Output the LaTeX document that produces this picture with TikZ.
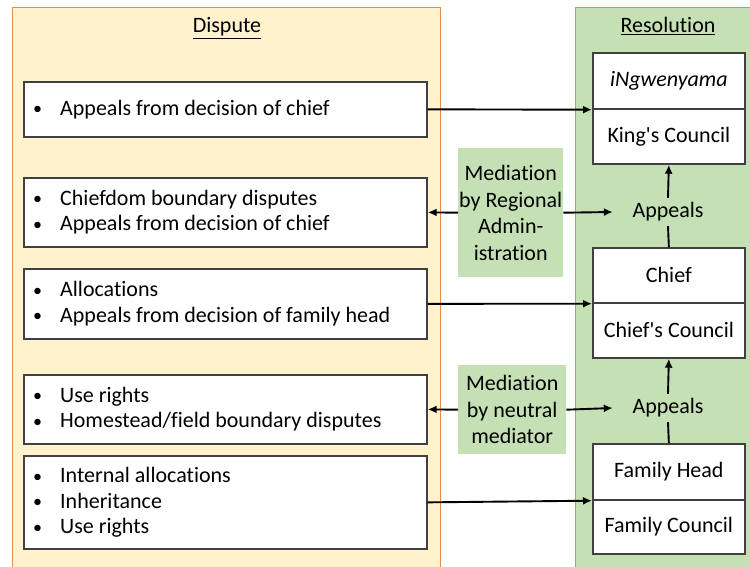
\documentclass[tikz,border=0pt]{standalone}
\usepackage{fontspec}
\setmainfont{Carlito}[Ligatures={TeXOff,CommonOff}]
\usetikzlibrary{arrows.meta}
\definecolor{disfill}{HTML}{FFF2CC}
\definecolor{resfill}{HTML}{C5E0B4}
\definecolor{panelline}{HTML}{E8884A}
\definecolor{boxline}{HTML}{404040}
\newcommand\dbul{\makebox[27pt][l]{\raisebox{0.5pt}{\fontsize{18}{18}\selectfont\textbullet}}}
\begin{document}
\begin{tikzpicture}[x=1pt,y=-1pt,
  every node/.style={font=\fontsize{22}{25.5}\selectfont, text=black},
  panel/.style={draw=panelline, line width=1.4pt, inner sep=0pt, anchor=north west},
  dbox/.style={draw=boxline, line width=1.7pt, fill=white, inner sep=0pt, anchor=north west, minimum width=403pt},
  rbox/.style={draw=boxline, line width=1.7pt, fill=white, inner sep=0pt, anchor=north west, minimum width=152pt},
  btext/.style={anchor=west, align=left, inner sep=0pt},
  ttl/.style={anchor=base, inner sep=0pt},
  med/.style={fill=resfill, inner sep=0pt, anchor=north west, align=center, font=\fontsize{22}{26.5}\selectfont},
  app/.style={minimum width=110pt, minimum height=28pt, inner sep=0pt},
  arr/.style={draw=black, line width=1.9pt, -{Latex[length=9pt,width=8pt]}},
  plain/.style={draw=black, line width=1.9pt}]
\useasboundingbox (0,0) rectangle (750,567);
% panels
\node[panel, fill=disfill, minimum width=428pt, minimum height=575pt] (dispute) at (12,7) {};
\node[panel, fill=resfill, minimum width=185pt, minimum height=575pt] (resolution) at (575,7) {};
\node[ttl] (dt) at (227,33) {\underline{Dispute}};
\node[ttl] (rt) at (668,33) {\underline{Resolution}};
% dispute boxes
\node[dbox, minimum height=55pt] (d1) at (23,81) {};
\node[dbox, minimum height=69pt] (d2) at (23,177) {};
\node[dbox, minimum height=70pt] (d3) at (23,268) {};
\node[dbox, minimum height=69pt] (d4) at (23,374) {};
\node[dbox, minimum height=93pt] (d5) at (23,455) {};
\node[btext] (t1) at ([xshift=10pt]d1.west) {\dbul Appeals from decision of chief};
\node[btext] (t2) at ([xshift=10pt]d2.west) {\dbul Chiefdom boundary disputes\\\dbul Appeals from decision of chief};
\node[btext] (t3) at ([xshift=10pt]d3.west) {\dbul Allocations\\\dbul Appeals from decision of family head};
\node[btext] (t4) at ([xshift=10pt]d4.west) {\dbul Use rights\\\dbul Homestead/field boundary disputes};
\node[btext] (t5) at ([xshift=10pt]d5.west) {\dbul Internal allocations\\\dbul Inheritance\\\dbul Use rights};
% resolution boxes
\node[rbox, minimum height=56pt] (k1) at (592,52) {\textit{iNgwenyama}};
\node[rbox, minimum height=55pt] (k2) at (592,108) {King's Council};
\node[rbox, minimum height=55pt] (c1) at (592,247) {Chief};
\node[rbox, minimum height=55pt] (c2) at (592,302) {Chief's Council};
\node[rbox, minimum height=56pt] (f1) at (592,443) {Family Head};
\node[rbox, minimum height=54pt] (f2) at (592,499) {Family Council};
% appeals
\node[app] (a1) at (668,212) {Appeals};
\node[app] (a2) at (668,408) {Appeals};
% mediation
\node[med, minimum width=105pt, minimum height=129pt] (m1) at (458,148) {Mediation\\by Regional\\Admin-\\istration};
\node[med, minimum width=108pt, minimum height=89pt] (m2) at (458,365) {Mediation\\by neutral\\mediator};
% connectors
\draw[arr] (d1.east) -- (k1.south west);
\draw[arr] (d3.east) -- (c1.south west);
\draw[arr] (d5.east) -- (f1.south west);
\draw[arr] (m1.west) -- (d2.east);
\draw[arr] (m1.east) -- (a1.west);
\draw[arr] (m2.west) -- (d4.east);
\draw[arr] (m2.east) -- (a2.west);
\draw[arr] (a1.north) -- (k2.south);
\draw[plain] (c1.north) -- (a1.south);
\draw[arr] (a2.north) -- (c2.south);
\draw[plain] (f1.north) -- (a2.south);
\end{tikzpicture}
\end{document}
